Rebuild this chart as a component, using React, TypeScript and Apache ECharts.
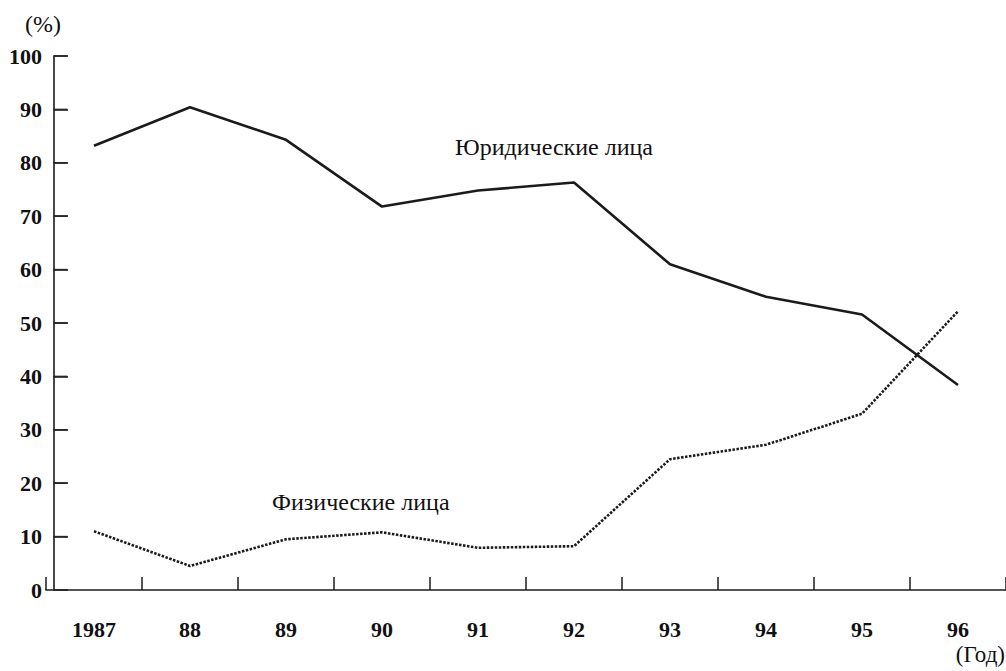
import React, { useEffect, useRef } from "react";
import * as echarts from "echarts";

const years = ["1987", "88", "89", "90", "91", "92", "93", "94", "95", "96"];
const legalEntities = [83.2, 90.4, 84.3, 71.8, 74.8, 76.3, 61.0, 54.9, 51.6, 38.4];
const individuals = [11.0, 4.5, 9.5, 10.8, 7.9, 8.2, 24.5, 27.2, 33.0, 52.2];
const yTicks = [0, 100, 10];
const yTickValues = [10, 20, 30, 40, 50, 60, 70, 80, 90, 100];

const serif = "'Liberation Serif', 'Times New Roman', serif";
const ink = "#1b1b1b";

const GRID_LEFT = 46;
const GRID_WIDTH = 972;
const Y_AXIS_SHIFT = 8;
const Y_TICK_LEN = 14;

export default function App() {
  const ref = useRef<HTMLDivElement>(null);
  useEffect(() => {
    if (!ref.current) return;
    const chart = echarts.init(ref.current, undefined, { renderer: "svg" });
    const halfBand = GRID_WIDTH / years.length / 2;
    chart.setOption({
      animation: false,
      backgroundColor: "#ffffff",
      grid: { left: GRID_LEFT, top: 56, width: GRID_WIDTH, bottom: 81, containLabel: false },
      xAxis: {
        type: "category",
        data: years,
        boundaryGap: true,
        axisLine: { show: true, lineStyle: { color: ink, width: 1.6 } },
        axisTick: { show: true, inside: true, length: 13, alignWithLabel: false, interval: 0, lineStyle: { color: ink, width: 1.5 } },
        axisLabel: {
          margin: 28,
          color: "#111",
          fontFamily: serif,
          fontWeight: "bold",
          fontSize: 22,
        },
        splitLine: { show: false },
      },
      yAxis: {
        type: "value",
        min: yTicks[0],
        max: yTicks[1],
        interval: yTicks[2],
        position: "left",
        offset: -Y_AXIS_SHIFT,
        splitLine: { show: false },
        axisLine: { show: true, onZero: false, lineStyle: { color: ink, width: 1.6 } },
        axisTick: { show: true, inside: true, length: Y_TICK_LEN, lineStyle: { color: ink, width: 1.5 } },
        axisLabel: {
          margin: 12,
          color: "#111",
          fontFamily: serif,
          fontWeight: "bold",
          fontSize: 22,
        },
      },
      series: [
        {
          name: "Юридические лица",
          type: "line",
          data: legalEntities,
          symbol: "none",
          lineStyle: { color: ink, width: 2.6 },
        },
        {
          name: "Физические лица",
          type: "line",
          data: individuals,
          symbol: "none",
          lineStyle: { color: ink, width: 2.6, type: [2.5, 1.5] },
        },
        {
          name: "yTickMarks",
          type: "scatter",
          silent: true,
          z: 5,
          data: yTickValues.map((v) => [0, v]),
          symbol: "rect",
          symbolSize: [Y_TICK_LEN, 1.6],
          symbolOffset: [-(halfBand - Y_AXIS_SHIFT - Y_TICK_LEN / 2), 0],
          itemStyle: { color: ink },
        },
      ],
      graphic: [
        {
          type: "text",
          left: 25,
          top: 12,
          style: { text: "(%)", font: `24px ${serif}`, fill: "#111" },
        },
        {
          type: "text",
          left: 455,
          top: 135,
          style: { text: "Юридические лица", font: `24px ${serif}`, fill: "#111" },
        },
        {
          type: "text",
          left: 272,
          top: 490,
          style: { text: "Физические лица", font: `24px ${serif}`, fill: "#111" },
        },
        {
          type: "text",
          right: 1,
          top: 643,
          style: { text: "(Год)", font: `23px ${serif}`, fill: "#111" },
        },
      ],
    });
    return () => chart.dispose();
  }, []);
  return (
    <div
      ref={ref}
      style={{ position: "absolute", left: 0, top: 0, width: 1006, height: 671 }}
    />
  );
}
